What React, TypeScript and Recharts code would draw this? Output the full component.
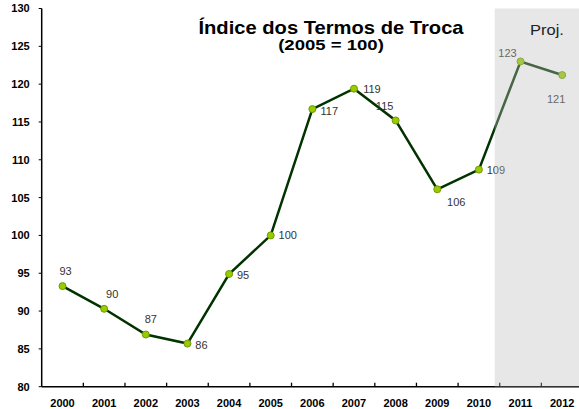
import React from 'react';
import { LineChart, Line, XAxis, YAxis, ReferenceArea, LabelList } from 'recharts';

const years = ['2000', '2001', '2002', '2003', '2004', '2005', '2006', '2007', '2008', '2009', '2010', '2011', '2012'];
const termsOfTrade = [93.3, 90.3, 86.9, 85.7, 94.9, 100.0, 116.7, 119.4, 115.2, 106.1, 108.7, 123.0, 121.2];
const yTicks = [80, 85, 90, 95, 100, 105, 110, 115, 120, 125, 130];
// projection shading, in category-band units along the x axis
const projectionFrom = 10.88;
const projectionTo = 13;

const labelOffsets: [number, number][] = [
  [3, -15], [8, -15], [5, -15], [14, 1], [14, 1], [17, 0], [17, 2],
  [18, 0], [-11, -14], [19, 13], [17, 0], [-13, -8], [-6, 24],
];

const data = years.map((year, i) => ({ year, value: termsOfTrade[i], pos: i + 0.5 }));

const FONT = '"Liberation Sans", Arial, sans-serif';
const TICK_MARGIN = 12;

const XTick = (props: any) => {
  const { payload } = props;
  const x = Number(props.x);
  const y = Number(props.y);
  const half = Number(payload?.offset) || 0;
  const axisY = y - TICK_MARGIN;
  return (
    <g>
      <path d={`M${x + half},${axisY - 4}L${x + half},${axisY}`} stroke="#000" strokeWidth={1.3} fill="none" />
      <text x={x} y={y} dy="0.71em" textAnchor="middle" fontFamily={FONT} fontSize={11} fontWeight="bold" fill="#000">
        {payload.value}
      </text>
    </g>
  );
};

const PointLabel = (props: any) => {
  const { value, index } = props;
  const x = Number(props.x);
  const y = Number(props.y);
  const off = labelOffsets[index] || [0, -12];
  return (
    <text x={x + off[0]} y={y + off[1]} dy="0.36em" textAnchor="middle" fontFamily={FONT} fontSize={11} fill="#333333">
      {Math.round(value)}
    </text>
  );
};

export default function App() {
  return (
    <div style={{ position: 'absolute', left: 0, top: 0, width: 579, height: 409, overflow: 'hidden', background: '#fff' }}>
      <LineChart width={600} height={409} data={data} margin={{ top: 8.5, right: 17, bottom: 0, left: 0 }}>
        <XAxis
          dataKey="year"
          scale="band"
          interval={0}
          tickLine={false}
          tickSize={0}
          tickMargin={TICK_MARGIN}
          height={22.3}
          axisLine={{ stroke: '#000', strokeWidth: 1.5 }}
          tick={<XTick />}
        />
        <XAxis
          xAxisId="top"
          orientation="top"
          dataKey="year"
          height={0}
          tick={false}
          tickLine={false}
          axisLine={{ stroke: '#404040', strokeWidth: 1.5 }}
        />
        <XAxis xAxisId="band" dataKey="pos" type="number" domain={[0, 13]} allowDataOverflow hide />
        <YAxis
          domain={[80, 130]}
          ticks={yTicks}
          interval={0}
          allowDataOverflow
          width={41.7}
          tickSize={3}
          tickMargin={9}
          axisLine={{ stroke: '#000', strokeWidth: 1.5 }}
          tickLine={{ stroke: '#000' }}
          tick={{ fontSize: 11, fontWeight: 'bold', fill: '#000', fontFamily: FONT }}
        />
        <Line
          dataKey="value"
          stroke="#003300"
          strokeWidth={2.5}
          dot={{ r: 3.5, fill: '#99cc00', stroke: '#6f9a00', strokeWidth: 1 }}
          isAnimationActive={false}
        >
          <LabelList dataKey="value" content={<PointLabel />} />
        </Line>
        <ReferenceArea
          xAxisId="band"
          x1={projectionFrom}
          x2={projectionTo}
          y1={80}
          y2={130}
          fill="#bfbfbf"
          fillOpacity={0.37}
          stroke="none"
          ifOverflow="visible"
          zIndex={2100}
        />
      </LineChart>
      <svg width={579} height={409} style={{ position: 'absolute', left: 0, top: 0, pointerEvents: 'none' }}>
        <text transform="translate(331,34) scale(1.12,1)" textAnchor="middle" fontFamily={FONT} fontSize={18} fontWeight="bold" fill="#000">
          Índice dos Termos de Troca
        </text>
        <text transform="translate(331,50) scale(1.28,1)" textAnchor="middle" fontFamily={FONT} fontSize={14.5} fontWeight="bold" fill="#000">
          (2005 = 100)
        </text>
        <text transform="translate(547,35) scale(1.1,1)" textAnchor="middle" fontFamily={FONT} fontSize={15} fill="#222">
          Proj.
        </text>
      </svg>
    </div>
  );
}
